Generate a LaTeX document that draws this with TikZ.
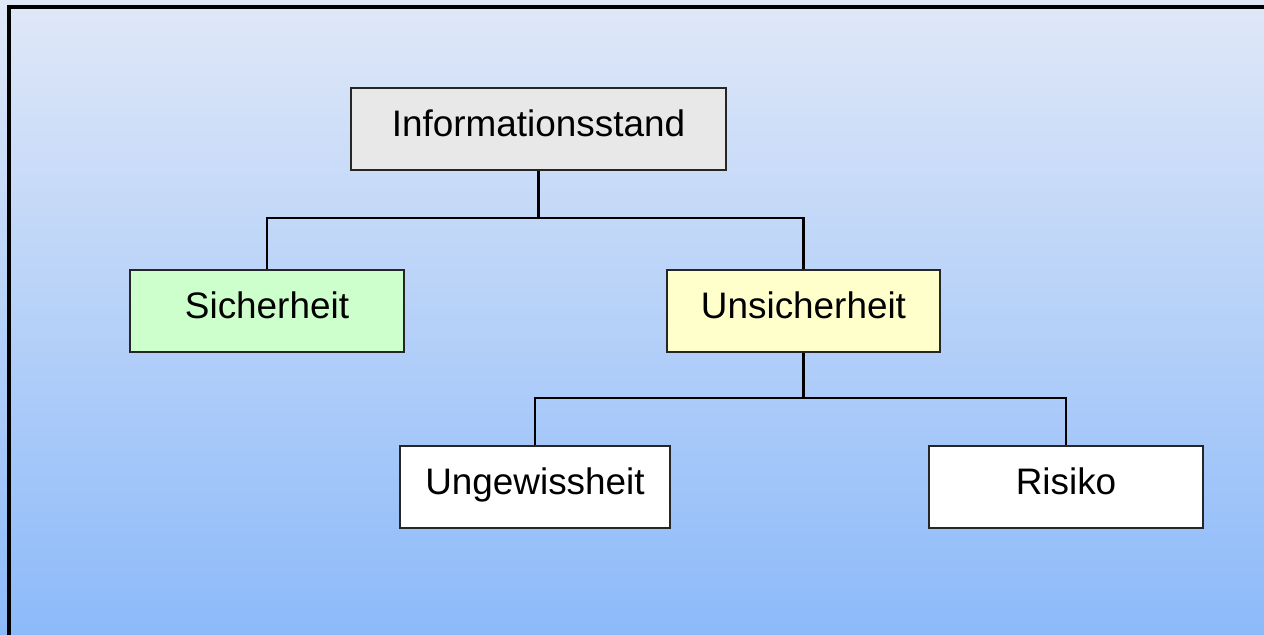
\documentclass[tikz,border=0pt]{standalone}
\usepackage{fontspec}
\setmainfont{Liberation Sans}
\usepackage{xcolor}
\usetikzlibrary{positioning}

\begin{document}
\begin{tikzpicture}[x=0.02cm, y=-0.02cm,
  box/.style={draw=black!85, line width=1.2pt, minimum height=1.64cm,
    text height=0.55cm, text depth=0.24cm, font=\fontsize{21}{25}\selectfont},
  link/.style={line width=1.3pt}]

% Define colours
\definecolor{skytop}{RGB}{224,232,248}
\definecolor{skybottom}{RGB}{140,186,249}
\definecolor{greybox}{RGB}{232,232,232}
\definecolor{greenbox}{RGB}{204,255,204}
\definecolor{yellowbox}{RGB}{255,255,204}

% Fix the page and clip to it
\useasboundingbox (0,0) rectangle (1264,635);
\clip (0,0) rectangle (1264,635);

% Draw background as a gradient
\shade[top color=skytop, bottom color=skybottom] (0,0) rectangle (1264,635);

% Draw frame (runs off the page at right and bottom)
\draw[line width=2.2pt] (9,7) rectangle (1300,700);

% Draw boxes
\node[box, fill=greybox, minimum width=7.5cm] (info) at (538.5,129) {Informationsstand};
\node[box, fill=greenbox, minimum width=5.48cm] (sicher) at (267,311) {Sicherheit};
\node[box, fill=yellowbox, minimum width=5.46cm] (unsicher) at (803.5,311) {Unsicherheit};
\node[box, fill=white, minimum width=5.4cm] (ungewiss) at (535,487) {Ungewissheit};
\node[box, fill=white, minimum width=5.48cm] (risiko) at (1066,487) {Risiko};

% Draw connectors
\coordinate (split1) at (538.5,218);
\coordinate (split2) at (803.5,398);
\draw[link] (info) -- (split1);
\draw[link] (sicher.north) |- (split1) -| (unsicher.north);
\draw[link] (unsicher) -- (split2);
\draw[link] (ungewiss.north) |- (split2) -| (risiko.north);

\end{tikzpicture}
\end{document}
